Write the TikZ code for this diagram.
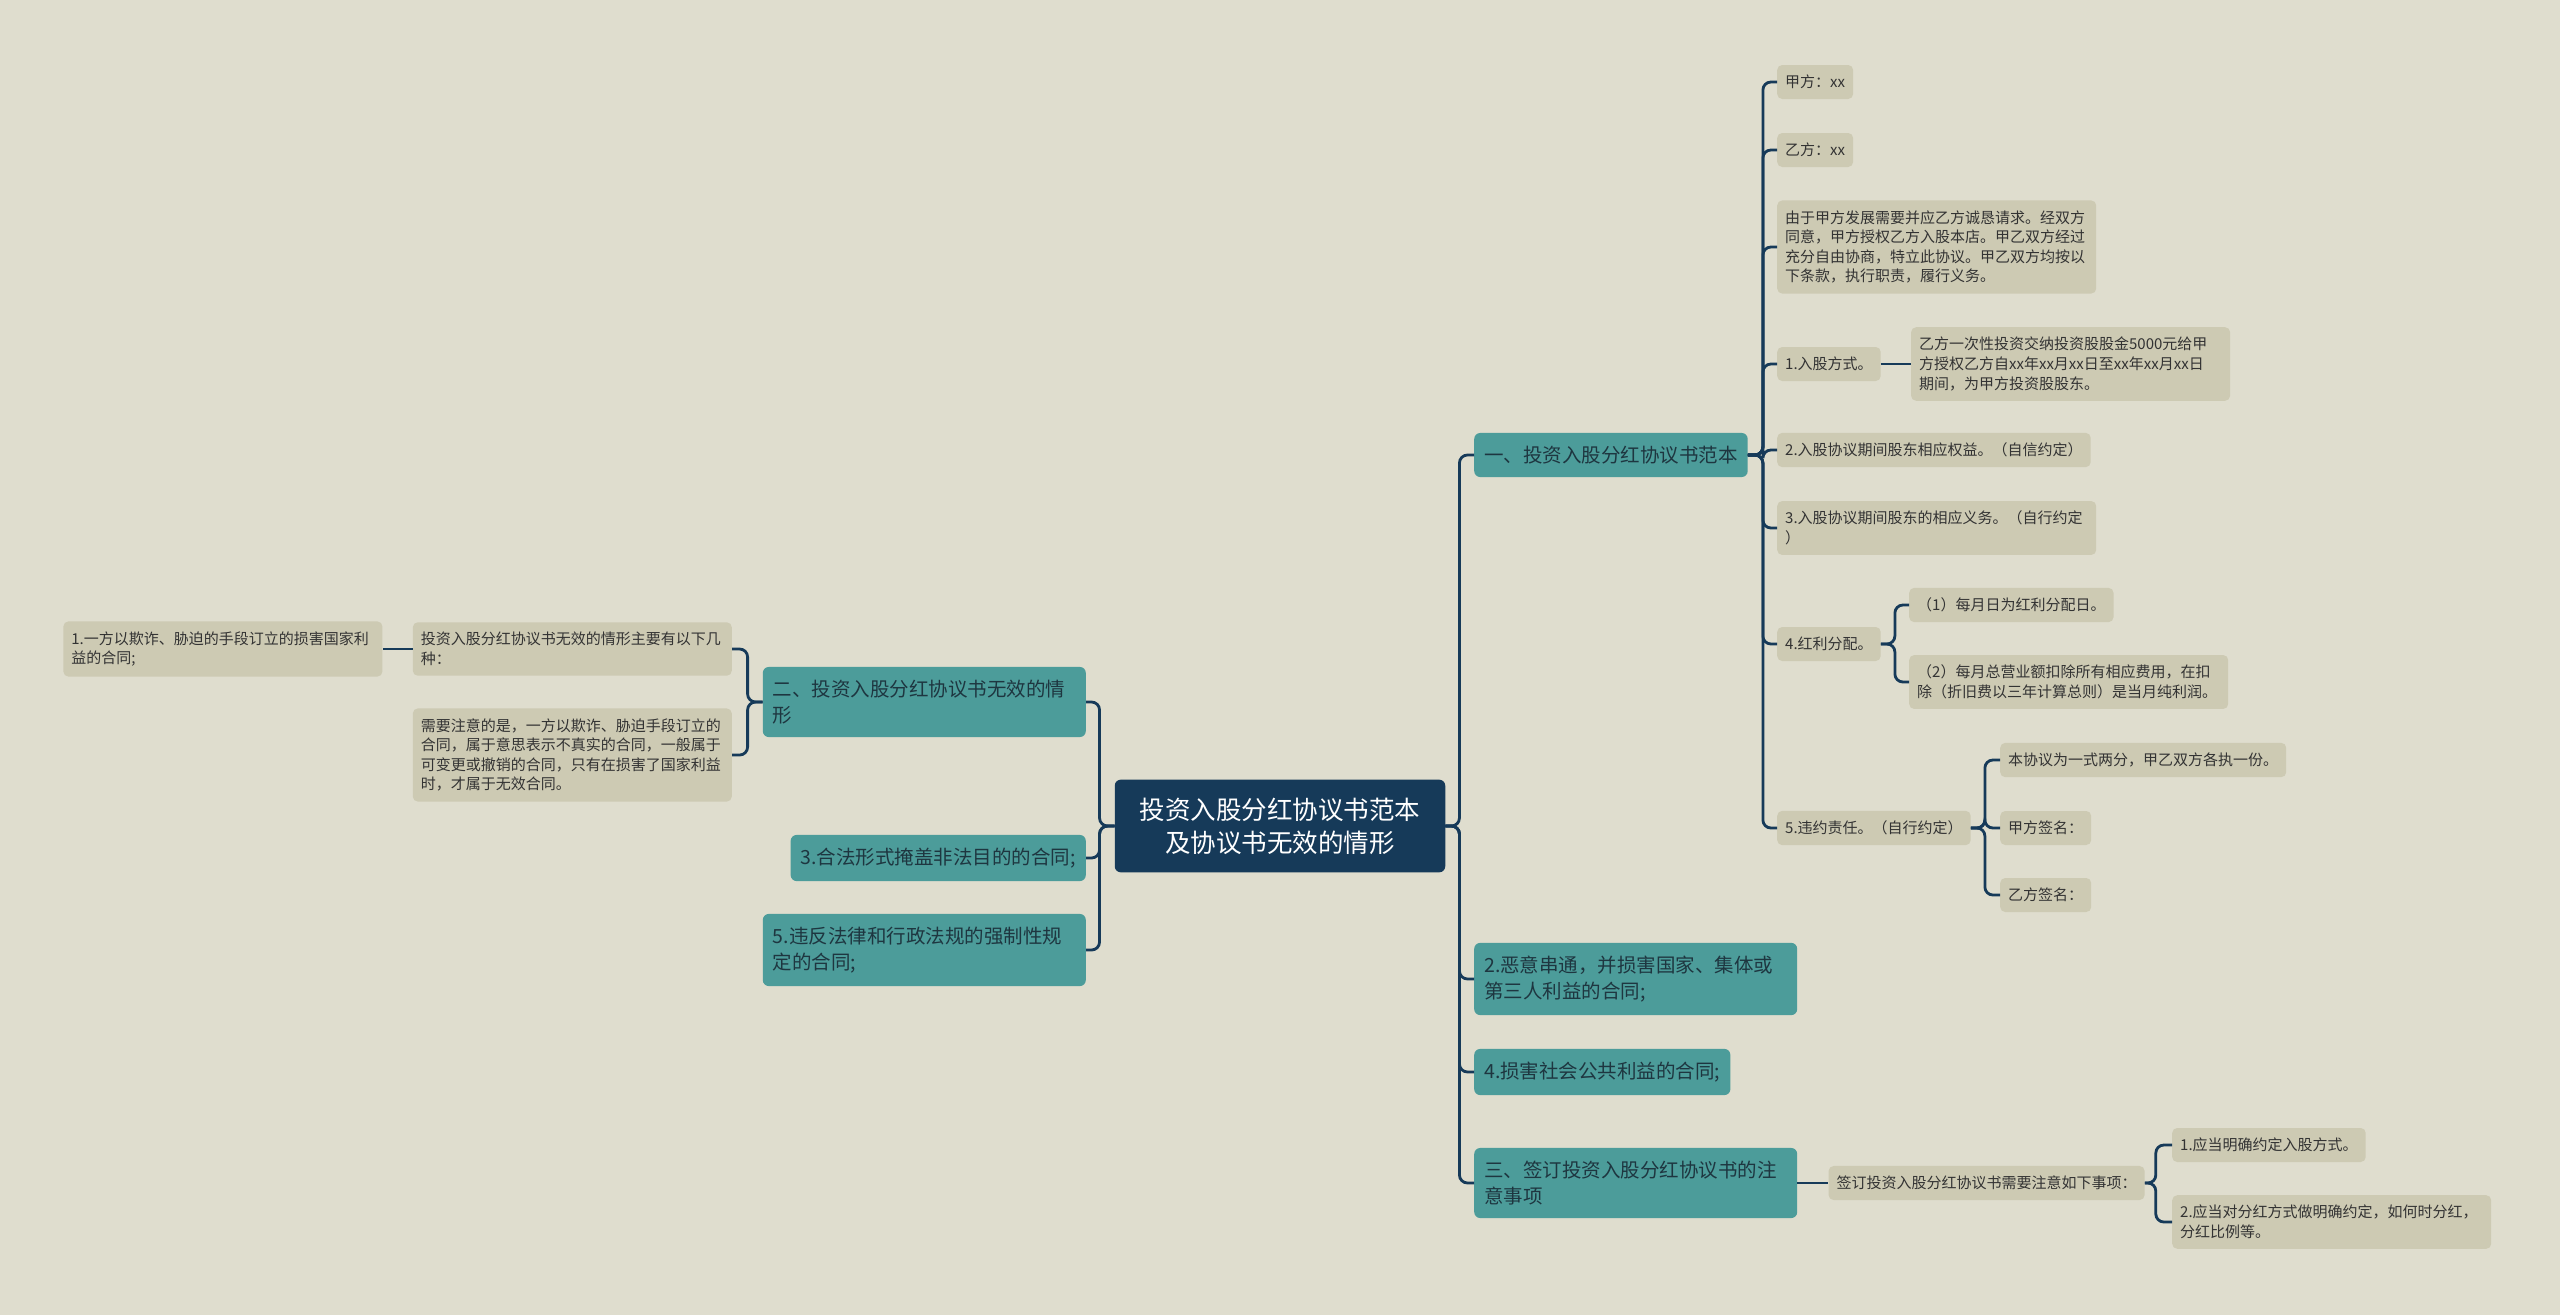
\documentclass[tikz,border=0pt]{standalone}
\usepackage{fontspec}
\setmainfont{Noto Sans CJK SC}
\usepackage{xcolor}
\usepackage{tikz}
\usetikzlibrary{positioning}
\definecolor{bgcol}{HTML}{DFDDCE}
\definecolor{rootcol}{HTML}{163A59}
\definecolor{tealcol}{HTML}{4C9C9A}
\definecolor{leafcol}{HTML}{CDCAB3}
\definecolor{linecol}{HTML}{163A59}
\definecolor{topictext}{HTML}{1E3640}
\definecolor{leaftext}{HTML}{333333}

\begin{document}
\begin{tikzpicture}[x=1pt, y=-1pt, node distance=30pt]
    \tikzset{rootbox/.style = {rectangle, fill=rootcol, text=white, rounded corners=6pt, align=center, inner xsep=25pt, inner ysep=18pt, font=\fontsize{25.5}{33}\selectfont}}
    \tikzset{topic/.style = {rectangle, fill=tealcol, text=topictext, rounded corners=6pt, align=left, inner xsep=10pt, inner ysep=13pt, minimum height=44pt, font=\fontsize{19.5}{26}\selectfont}}
    \tikzset{topicwrap/.style = {topic, text width=303pt}}
    \tikzset{leaf/.style = {rectangle, fill=leafcol, text=leaftext, rounded corners=5pt, align=left, inner xsep=8pt, inner ysep=10pt, minimum height=34pt, font=\fontsize{15}{19.6}\selectfont}}
    \tikzset{leafwrap/.style = {leaf, text width=303pt}}
    \tikzset{link/.style = {draw=linecol, line width=2.8pt, rounded corners=8pt}}

    \fill[bgcol] (0,0) rectangle (2560,1315);
    \useasboundingbox (0,0) rectangle (2560,1315);

    % Root
    \node [rootbox] (root) at (1280,826) {投资入股分红协议书范本\\及协议书无效的情形};

    % Right branches
    \node [topic, anchor=west] (fanben) at (1474,455) {一、投资入股分红协议书范本};
    \node [topicwrap, anchor=west] (chuantong) at (1474,979) {2.恶意串通，并损害国家、集体或\\第三人利益的合同;};
    \node [topic, anchor=west] (gonggong) at (1474,1072) {4.损害社会公共利益的合同;};
    \node [topicwrap, anchor=west] (shixiang) at (1474,1183) {三、签订投资入股分红协议书的注\\意事项};

    % Left branches
    \node [topicwrap, anchor=east] (wuxiao) at (1086,702) {二、投资入股分红协议书无效的情\\形};
    \node [topic, anchor=east] (yanshi) at (1086,858) {3.合法形式掩盖非法目的的合同;};
    \node [topicwrap, anchor=east] (weifan) at (1086,950) {5.违反法律和行政法规的强制性规\\定的合同;};

    % Contract template
    \node [leaf, anchor=west] (jiafang) at (1777,82) {甲方：xx};
    \node [leaf, anchor=west] (yifang) at (1777,150) {乙方：xx};
    \node [leafwrap, anchor=west] (yinyan) at (1777,247) {由于甲方发展需要并应乙方诚恳请求。经双方\\同意，甲方授权乙方入股本店。甲乙双方经过\\充分自由协商，特立此协议。甲乙双方均按以\\下条款，执行职责，履行义务。};
    \node [leaf, anchor=west] (rugu) at (1777,364) {1.入股方式。};
    \node [leafwrap, right=30pt of rugu] (rugumx) {乙方一次性投资交纳投资股股金5000元给甲\\方授权乙方自xx年xx月xx日至xx年xx月xx日\\期间，为甲方投资股股东。};
    \node [leaf, anchor=west] (quanyi) at (1777,450) {2.入股协议期间股东相应权益。（自信约定）};
    \node [leafwrap, anchor=west] (yiwu) at (1777,528) {3.入股协议期间股东的相应义务。（自行约定\\）};
    \node [leaf, anchor=west] (hongli) at (1777,644) {4.红利分配。};
    \node [leaf, anchor=west] (hongliA) at (1909,605) {（1）每月日为红利分配日。};
    \node [leafwrap, anchor=west] (hongliB) at (1909,682) {（2）每月总营业额扣除所有相应费用，在扣\\除（折旧费以三年计算总则）是当月纯利润。};
    \node [leaf, anchor=west] (weiyue) at (1777,828) {5.违约责任。（自行约定）};
    \node [leaf, anchor=west] (fenshu) at (2000,760) {本协议为一式两分，甲乙双方各执一份。};
    \node [leaf, anchor=west] (jiasign) at (2000,828) {甲方签名：};
    \node [leaf, anchor=west] (yisign) at (2000,895) {乙方签名：};

    % Notes when signing
    \node [leaf, right=31pt of shixiang] (ruxia) {签订投资入股分红协议书需要注意如下事项：};
    \node [leaf, anchor=west] (zhuA) at (2172,1145) {1.应当明确约定入股方式。};
    \node [leafwrap, anchor=west] (zhuB) at (2172,1222) {2.应当对分红方式做明确约定，如何时分红，\\分红比例等。};

    % Invalid cases
    \node [leafwrap, anchor=east] (jizhong) at (732,649) {投资入股分红协议书无效的情形主要有以下几\\种：};
    \node [leafwrap, left=30pt of jizhong] (qizha) {1.一方以欺诈、胁迫的手段订立的损害国家利\\益的合同;};
    \node [leafwrap, anchor=east] (zhuyi) at (732,755) {需要注意的是，一方以欺诈、胁迫手段订立的\\合同，属于意思表示不真实的合同，一般属于\\可变更或撤销的合同，只有在损害了国家利益\\时，才属于无效合同。};

    % Connections
    \foreach \c in {fanben, chuantong, gonggong, shixiang}
        \draw [link] (root.east) -- ++(14,0) |- (\c.west);
    \foreach \c in {wuxiao, yanshi, weifan}
        \draw [link] (root.west) -- ++(-15,0) |- (\c.east);
    \foreach \c in {jiafang, yifang, yinyan, rugu, quanyi, yiwu, hongli, weiyue}
        \draw [link] (fanben.east) -- ++(15,0) |- (\c.west);
    \draw [link] (rugu) -- (rugumx);
    \foreach \c in {hongliA, hongliB}
        \draw [link] (hongli.east) -- ++(14,0) |- (\c.west);
    \foreach \c in {fenshu, jiasign, yisign}
        \draw [link] (weiyue.east) -- ++(14,0) |- (\c.west);
    \draw [link] (shixiang) -- (ruxia);
    \foreach \c in {zhuA, zhuB}
        \draw [link] (ruxia.east) -- ++(11,0) |- (\c.west);
    \foreach \c in {jizhong, zhuyi}
        \draw [link] (wuxiao.west) -- ++(-15,0) |- (\c.east);
    \draw [link] (jizhong) -- (qizha);
\end{tikzpicture}
\end{document}
